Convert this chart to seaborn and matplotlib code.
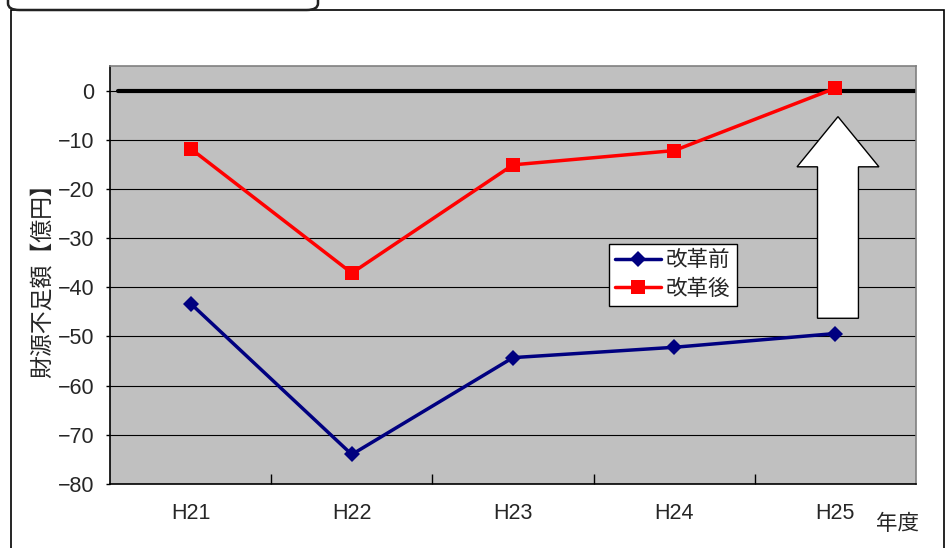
import numpy as np
import pandas as pd
import matplotlib
matplotlib.use("Agg")
import matplotlib.pyplot as plt
from matplotlib.patches import Polygon, FancyBboxPatch, Rectangle
import seaborn as sns

YEARS = ["H21", "H22", "H23", "H24", "H25"]
BEFORE = [-43.3, -74.0, -54.3, -52.2, -49.4]
AFTER = [-11.8, -37.1, -15.1, -12.2, 0.5]
SERIES = ["改革前", "改革後"]
YTICKS = [0, -10, -20, -30, -40, -50, -60, -70, -80]

sns.set_theme(style="white")
plt.rcParams["font.family"] = ["Liberation Sans", "Noto Sans CJK JP", "DejaVu Sans"]

df = pd.DataFrame({
	"year": YEARS * 2,
	"value": BEFORE + AFTER,
	"series": [SERIES[0]] * len(YEARS) + [SERIES[1]] * len(YEARS),
})

fig = plt.figure(figsize=(9.53, 5.48), dpi=100)
fig.patch.set_facecolor("white")

# outer frame and the rounded title box at the top
fig.patches.append(Rectangle((11 / 953, -0.1), (944 - 11) / 953, 1.1 - 10 / 548, transform=fig.transFigure,
	fill=False, edgecolor="black", linewidth=1.2))
fig.patches.append(FancyBboxPatch((8 / 953, 1 - 10 / 548), (318 - 8) / 953, 0.1,
	boxstyle="round,pad=0,rounding_size=0.012", transform=fig.transFigure,
	facecolor="white", edgecolor="#222222", linewidth=1.8))

ax = fig.add_axes([110 / 953, 64 / 548, 806 / 953, 418 / 548])
ax.set_facecolor("#C0C0C0")

sns.lineplot(data=df, x="year", y="value", hue="series", style="series",
	palette={SERIES[0]: "#000080", SERIES[1]: "#FF0000"},
	markers={SERIES[0]: "D", SERIES[1]: "s"}, dashes=False,
	markersize=10, linewidth=2.5, markeredgewidth=0, ax=ax, sort=False)
for l in ax.lines:
	if l.get_marker() == "D":
		l.set_markersize(8.5)

ax.set_xlim(-0.5, len(YEARS) - 0.5)
ax.set_ylim(-80, 5)
ax.set_yticks(YTICKS)
ax.set_yticklabels([str(v).replace("-", "\u2212") for v in YTICKS])
ax.yaxis.grid(True, color="black", linewidth=0.8)
ax.set_axisbelow(True)
ax.axhline(0, xmin=0.01, color="black", linewidth=3, zorder=1.5)

ax.set_xticks(np.arange(len(YEARS)))
ax.set_xticklabels(YEARS)
ax.set_xticks(np.arange(len(YEARS) - 1) + 0.5, minor=True)
ax.tick_params(axis="x", which="major", length=0, pad=14, labelsize=15.5)
ax.tick_params(axis="x", which="minor", direction="in", length=7, width=1, color="black", bottom=True)
ax.tick_params(axis="y", direction="out", length=3, width=1, color="black", left=True, labelsize=15.5, pad=8)

for s in ["left", "bottom"]:
	ax.spines[s].set_color("black")
	ax.spines[s].set_linewidth(1.2)
for s in ["top", "right"]:
	ax.spines[s].set_color("#808080")
	ax.spines[s].set_linewidth(1.2)

ax.set_xlabel("")
ax.set_ylabel("財源不足額【億円】", fontsize=16.5, labelpad=3)

# block arrow below the H25 points
xc = len(YEARS) - 1 + 0.016
sh, hh = 0.127, 0.254
yb, yh, yt = BEFORE[-1] + 3.1, AFTER[-1] - 16.0, AFTER[-1] - 5.8
ax.add_patch(Polygon([(xc - sh, yb), (xc + sh, yb), (xc + sh, yh), (xc + hh, yh), (xc, yt),
	(xc - hh, yh), (xc - sh, yh)], closed=True, facecolor="white", edgecolor="black", linewidth=1, zorder=4))

leg = ax.legend(loc="upper left", bbox_to_anchor=(0.619, 0.575), frameon=True, fancybox=False,
	fontsize=15.5, handlelength=2.1, borderpad=0.3, labelspacing=0.35, handletextpad=0.25,
	borderaxespad=0)
leg.get_frame().set_edgecolor("black")
leg.get_frame().set_linewidth(1)
leg.get_frame().set_facecolor("white")
leg.get_frame().set_alpha(1)

fig.text(898 / 953, 1 - 524 / 548, "年度", fontsize=15.5, ha="center", va="center")

fig.savefig("out.png", dpi=100)
